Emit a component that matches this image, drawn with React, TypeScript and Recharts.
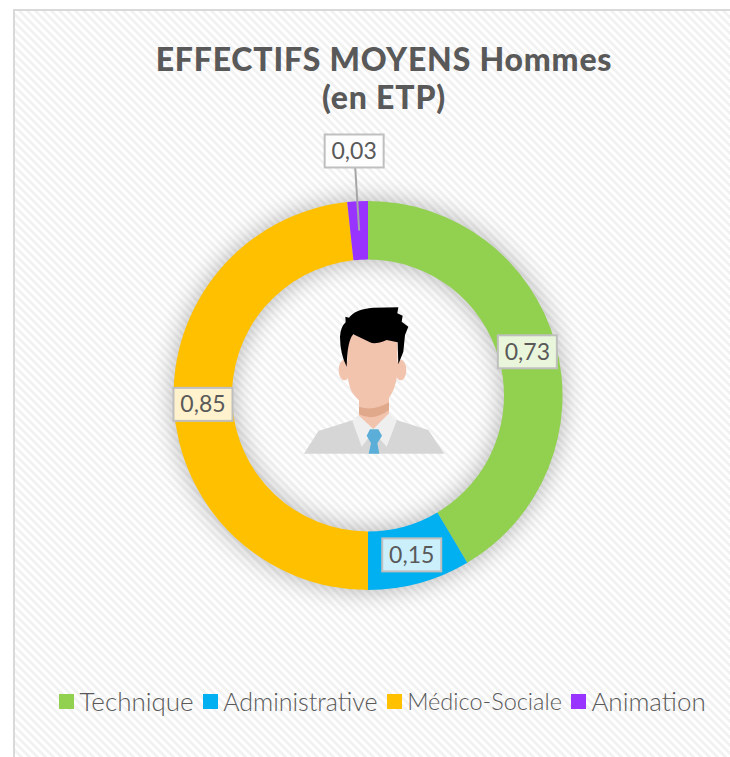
import { PieChart, Pie, Legend } from "recharts";

const categories = ["Technique", "Administrative", "Médico-Sociale", "Animation"];
const values = [0.73, 0.15, 0.85, 0.03];

const COLORS = ["#92D050", "#00B0F0", "#FFC000", "#9933FF"];
const LABEL_FILLS = ["#E9F6DC", "#CCEFFC", "#FFF2CC", "#FDFDFD"];
const LEGEND_SIZES = [26, 25, 23.5, 26];
const TEXT = "#595959";
const FONT = "Lato, sans-serif";

const sliceData = categories.map((name, i) => ({ name, value: values[i], fill: COLORS[i] }));
const glowData = [{ name: "glow", value: 1, fill: "#000" }];

const RAD = Math.PI / 180;
const CALLOUT = 3; // the thin slice has its label pulled out above the ring

const renderLabel = ({ cx, cy, midAngle, innerRadius, outerRadius, index, value }: any) => {
  const r = (innerRadius + outerRadius) / 2;
  const px = cx + r * Math.cos(-midAngle * RAD);
  const py = cy + r * Math.sin(-midAngle * RAD);
  const lx = index === CALLOUT ? px - 5 : px;
  const ly = index === CALLOUT ? py - 79.5 : py;
  return (
    <g>
      {index === CALLOUT && <line x1={lx} y1={ly} x2={px} y2={py} stroke="#A6A6A6" strokeWidth={2} />}
      <rect x={lx - 29.5} y={ly - 16.5} width={59} height={33} fill={LABEL_FILLS[index]} stroke="#BFBFBF" strokeWidth={2} />
      <text x={lx} y={ly + 8} textAnchor="middle" fontSize={23} fontFamily={FONT} fill={TEXT}>
        {value.toFixed(2).replace(".", ",")}
      </text>
    </g>
  );
};

const renderLegend = ({ payload }: any) => (
  <div style={{ display: "flex", alignItems: "center", fontFamily: FONT, fontWeight: 300, color: TEXT, whiteSpace: "nowrap" }}>
    {payload
      .filter((p: any) => p.type !== "none")
      .map((p: any, i: number) => (
        <div key={p.value} style={{ display: "flex", alignItems: "center", marginRight: 9 }}>
          <span style={{ width: 15, height: 15, background: p.color, marginRight: 5.5 }} />
          <span style={{ fontSize: LEGEND_SIZES[i], lineHeight: "30px" }}>{p.value}</span>
        </div>
      ))}
  </div>
);

// drawn in a 3x grid, then scaled down
function Person() {
  return (
    <svg width={160} height={170} viewBox="0 0 480 510" style={{ position: "absolute", left: 290, top: 295 }}>
      <path d="M42 476 L85 408 L190 375 L320 375 L415 405 L463 476 Z" fill="#D6D6D6" />
      <path d="M207 310 L297 310 L297 385 L250 410 L207 385 Z" fill="#F2C3AD" />
      <path d="M207 335 Q250 350 297 322 L297 345 Q250 380 207 358 Z" fill="#E0A98C" />
      <path d="M205 360 L187 378 L215 455 L250 410 L290 455 L320 378 L297 355 L250 402 Z" fill="#EFEFEF" />
      <path d="M250 403 L265 403 L276 422 L262 445 L268 476 L236 476 L243 445 L230 422 L240 403 Z" fill="#5AAED8" />
      <ellipse cx={163} cy={225} rx={17} ry={31} fill="#F2C3AD" />
      <ellipse cx={332} cy={225} rx={17} ry={31} fill="#F2C3AD" />
      <path d="M172 120 L322 120 L322 235 Q318 285 290 318 Q262 342 235 335 Q205 320 185 290 Q172 260 172 225 Z" fill="#F2C3AD" />
      <path
        d="M170 215 Q150 175 150 125 Q152 95 167 82 L166 65 L177 68 Q195 42 250 38 L325 37 L322 55 L338 62 L335 80 L355 95 L345 120 L340 170 L325 208 L323 142 L290 135 Q255 150 240 142 L190 118 Q172 135 170 215 Z"
        fill="#000"
      />
    </svg>
  );
}

export default function App() {
  return (
    <div style={{ position: "absolute", left: 0, top: 0, width: 730, height: 757, overflow: "hidden", background: "#fff" }}>
      <div
        style={{
          position: "absolute",
          left: 13,
          top: 9,
          width: 740,
          height: 770,
          boxSizing: "border-box",
          border: "2px solid #D9D9D9",
          backgroundColor: "#fff",
          backgroundImage: "repeating-linear-gradient(45deg, #F2F2F2 0, #F2F2F2 2.83px, #FFF 2.83px, #FFF 5.66px)",
        }}
      />
      <div
        style={{
          position: "absolute",
          left: 0,
          top: 40,
          width: 768,
          textAlign: "center",
          fontFamily: FONT,
          fontWeight: 900,
          fontSize: 32,
          letterSpacing: 0.8,
          lineHeight: "38px",
          color: TEXT,
        }}
      >
        EFFECTIFS MOYENS Hommes
        <br />
        (en ETP)
      </div>
      <PieChart width={730} height={757} margin={{ top: 0, right: 0, bottom: 0, left: 0 }} style={{ position: "absolute", left: 0, top: 0 }}>
        <defs>
          <filter id="donutGlow" x="-30%" y="-30%" width="160%" height="160%">
            <feGaussianBlur stdDeviation="13" />
            <feComponentTransfer>
              <feFuncA type="linear" slope="0.3" />
            </feComponentTransfer>
          </filter>
        </defs>
        <Pie
          data={glowData}
          dataKey="value"
          cx={368}
          cy={395.5}
          innerRadius={136}
          outerRadius={194.5}
          startAngle={90}
          endAngle={-270}
          stroke="none"
          filter="url(#donutGlow)"
          legendType="none"
          isAnimationActive={false}
        />
        <Pie
          data={sliceData}
          dataKey="value"
          nameKey="name"
          cx={368}
          cy={395.5}
          innerRadius={136}
          outerRadius={194.5}
          startAngle={90}
          endAngle={-270}
          stroke="none"
          label={renderLabel}
          labelLine={false}
          isAnimationActive={false}
        />
        <Legend itemSorter={null} content={renderLegend} wrapperStyle={{ position: "absolute", left: 59, top: 686, width: 670 }} />
      </PieChart>
      <Person />
    </div>
  );
}
